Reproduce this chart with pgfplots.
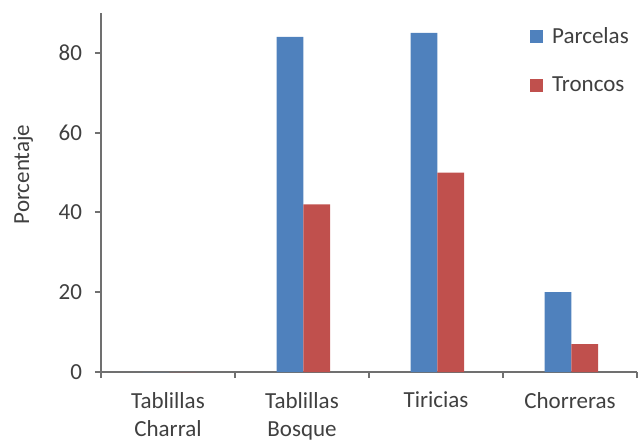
\documentclass[border=0pt]{standalone}
\usepackage{pgfplots}
\pgfplotsset{compat=1.18}
\usepackage{fontspec}
\setmainfont{Carlito}
\definecolor{cblue}{HTML}{4F81BD}
\definecolor{cred}{HTML}{C0504D}
\definecolor{ctext}{HTML}{404040}
\definecolor{caxis}{HTML}{707070}
\newcommand{\lfont}{\fontsize{11.5bp}{15.5bp}\selectfont}
\newcommand{\xfont}{\fontsize{11.5bp}{14bp}\selectfont}
\begin{document}
\begin{tikzpicture}
\begin{axis}[
  scale only axis, width=268bp, height=179.5bp,
  xmin=-0.5, xmax=3.5, ymin=0, ymax=90,
  axis lines*=left,
  axis line style={caxis, line width=1bp},
  ybar=0pt, bar width=13.4bp,
  xtick={0,1,2,3},
  xticklabels={Tablillas\\Charral, Tablillas\\Bosque, Tiricias, Chorreras},
  xticklabel style={align=center, font=\xfont, text=ctext, yshift=-3.5bp},
  major x tick style={draw=none},
  minor xtick={-0.5,0.5,1.5,2.5,3.5},
  minor x tick style={caxis, line width=1bp},
  ytick={0,20,40,60,80},
  yticklabel style={font=\lfont, text=ctext, xshift=-3bp},
  /pgf/number format/assume math mode=true,
  tick align=outside,
  major y tick style={caxis, line width=1bp},
  major tick length=3bp, minor tick length=3bp,
  ylabel={Porcentaje},
  ylabel style={font=\lfont, text=ctext, at={(axis description cs:-0.145,0.55)}, anchor=center, rotate=0},
  legend style={draw=none, fill=none, font=\lfont, text=ctext,
    at={(axis description cs:0.800,0.972)}, anchor=north west,
    row sep=11bp, inner sep=0pt, cells={anchor=west},
    /tikz/every even column/.append style={column sep=0pt}},
  legend image code/.code={\fill[#1] (0bp,-3.25bp) rectangle (6.5bp,3.25bp);},
  legend cell align=left,
]
\addplot[fill=cblue, draw=none, bar shift=-6.0bp] coordinates {(0,0) (1,84) (2,85) (3,20)};
\addplot[fill=cred, draw=none, bar shift=7.4bp] coordinates {(0,0) (1,42) (2,50) (3,7)};
\legend{\hspace{2.5bp}Parcelas, \hspace{2.5bp}Troncos}
\end{axis}
\pgfresetboundingbox
\path (current axis.south west) ++(-50.5bp,-35bp) rectangle ++(319.5bp,221bp);
\end{tikzpicture}
\end{document}
